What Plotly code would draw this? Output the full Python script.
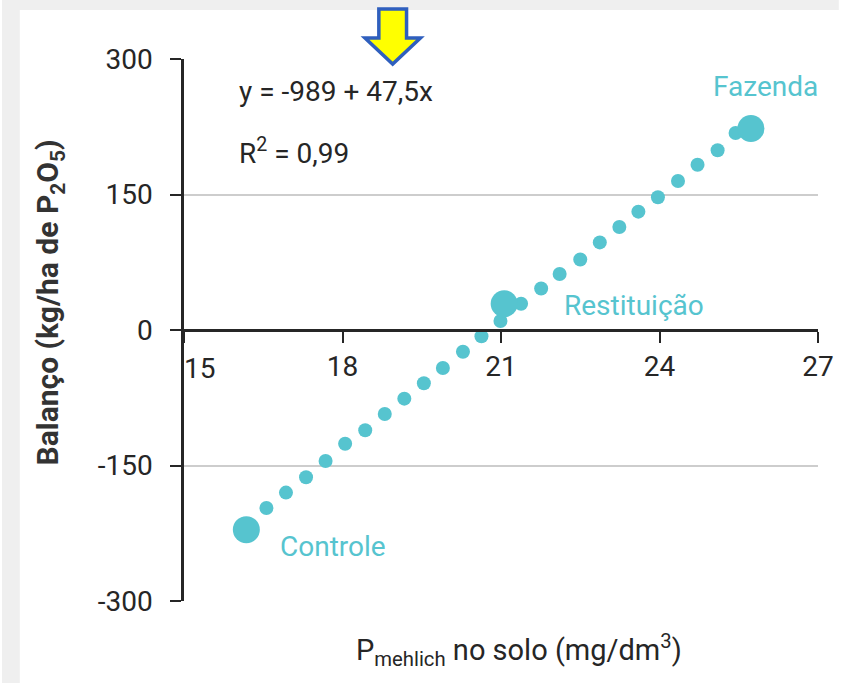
import plotly.graph_objects as go

# ---------------- data ----------------
# small dots along the fitted line
line_x = [16.56, 16.93, 17.31, 17.68, 18.05, 18.43, 18.80, 19.17, 19.54, 19.90,
          20.28, 20.63, 20.99, 21.38, 21.76, 22.11, 22.50, 22.87, 23.24, 23.60,
          23.97, 24.35, 24.72, 25.10, 25.44]
line_y = [-197, -180, -163, -145, -126, -111, -93, -76, -59, -42,
          -24, -7, 10, 29, 46, 62, 78, 97, 114, 131,
          147, 165, 183, 199, 218]

# main treatments
treat_names = ["Controle", "Restituição", "Fazenda"]
treat_x = [16.18, 21.06, 25.73]
treat_y = [-221, 29, 223]

# label anchor positions (data units)
label_x = [16.78, 22.15, 24.97]
label_y = [-240, 27, 270]

x_ticks = [15, 18, 21, 24, 27]
y_ticks = [-300, -150, 0, 150, 300]
y_tick_text = ["-300", "-150", "0", "150", "300"]

equation = "y = -989 + 47,5x"
r2_text = "R<sup>2</sup> = 0,99"

# ---------------- style ----------------
TEAL = "#56C4CF"
DARK = "#262626"
FONT = "Roboto, Liberation Sans, sans-serif"

W, H = 846, 683
L, R, T, B = 184, 21, 59, 82
PW, PH = W - L - R, H - T - B


def px(x, y):
    """pixel -> paper coordinates (decoration only)"""
    return (x - L) / PW, (H - B - y) / PH


fig = go.Figure()

fig.add_trace(go.Scatter(
    x=line_x, y=line_y, mode="markers",
    marker=dict(color=TEAL, size=14, line=dict(width=0)),
    hoverinfo="skip", showlegend=False))

fig.add_trace(go.Scatter(
    x=treat_x, y=treat_y, mode="markers", text=treat_names,
    marker=dict(color=TEAL, size=27, line=dict(width=0)),
    showlegend=False))

annotations = []
for name, lx, ly in zip(treat_names, label_x, label_y):
    annotations.append(dict(x=lx, y=ly, xref="x", yref="y", text=name,
                            showarrow=False, xanchor="left", yanchor="middle",
                            font=dict(family=FONT, size=28, color=TEAL)))

annotations.append(dict(x=16.0, y=264, xref="x", yref="y", text=equation,
                        showarrow=False, xanchor="left", yanchor="middle",
                        font=dict(family=FONT, size=28, color=DARK)))
annotations.append(dict(x=16.0, y=198, xref="x", yref="y", text=r2_text,
                        showarrow=False, xanchor="left", yanchor="middle",
                        font=dict(family=FONT, size=28, color=DARK)))

# "15" tick label sits to the right of the y axis
annotations.append(dict(x=x_ticks[0], y=0, xref="x", yref="y", text=str(x_ticks[0]),
                        showarrow=False, xanchor="left", yanchor="top", yshift=-20,
                        xshift=-2,
                        font=dict(family=FONT, size=28, color=DARK)))

ax_, ay_ = px(48, 302)
annotations.append(dict(x=ax_, y=ay_, xref="paper", yref="paper",
                        xanchor="center", yanchor="middle",
                        text="<b>Balanço (kg/ha de P<sub>2</sub>O<sub>5</sub>)</b>",
                        textangle=-90, showarrow=False,
                        font=dict(family=FONT, size=30, color="#333333")))
bx_, by_ = px(523, 650)
annotations.append(dict(x=bx_, y=by_, xref="paper", yref="paper",
                        xanchor="center", yanchor="middle",
                        text="P<sub>mehlich</sub> no solo (mg/dm<sup>3</sup>)",
                        showarrow=False,
                        font=dict(family=FONT, size=29, color=DARK)))

# background frame (screenshot edges) and arrow decoration
shapes = []
x0, y0 = px(0, 0)
x1, y1 = px(W, H)
sx, _ = px(18, 0)
shapes.append(dict(type="rect", xref="paper", yref="paper", x0=x0, x1=sx, y0=y1, y1=y0,
                   fillcolor="#efefef", line=dict(width=0), layer="below"))
_, ty = px(0, 10)
shapes.append(dict(type="rect", xref="paper", yref="paper", x0=x0, x1=x1, y0=ty, y1=y0,
                   fillcolor="#efefef", line=dict(width=0), layer="below"))

arrow_px = [(381, 9), (409, 9), (409, 38), (423, 38), (395, 64), (367, 38), (381, 38)]
pts = [px(a, b) for a, b in arrow_px]
path = "M " + " L ".join(f"{a:.5f},{b:.5f}" for a, b in pts) + " Z"
shapes.append(dict(type="path", xref="paper", yref="paper", path=path,
                   fillcolor="#FFFF00", line=dict(color="#2F5FBE", width=3.5), layer="above"))

fig.update_layout(
    width=W, height=H,
    margin=dict(l=L, r=R, t=T, b=B, pad=0),
    paper_bgcolor="white", plot_bgcolor="white",
    font=dict(family=FONT, size=28, color=DARK),
    annotations=annotations, shapes=shapes,
    xaxis=dict(range=[15, 27], tickvals=x_ticks,
               ticktext=[""] + [str(v) for v in x_ticks[1:]],
               anchor="free", position=0.5,
               showline=True, linecolor=DARK, linewidth=2.5,
               ticks="outside", ticklen=11, tickwidth=2, tickcolor=DARK,
               showgrid=False, zeroline=False,
               tickfont=dict(family=FONT, size=28, color=DARK)),
    yaxis=dict(range=[-300, 300], tickvals=y_ticks, ticktext=y_tick_text,
               showline=True, linecolor=DARK, linewidth=2.5,
               ticks="outside", ticklen=11, tickwidth=2, tickcolor=DARK,
               showgrid=True, gridcolor="#cdcdcd", gridwidth=2,
               zeroline=False, ticklabelstandoff=12,
               tickfont=dict(family=FONT, size=28, color=DARK)),
)

fig.write_html("out.html", config={"displayModeBar": False},
               post_script="document.body.style.margin='0';document.body.style.padding='0';")
